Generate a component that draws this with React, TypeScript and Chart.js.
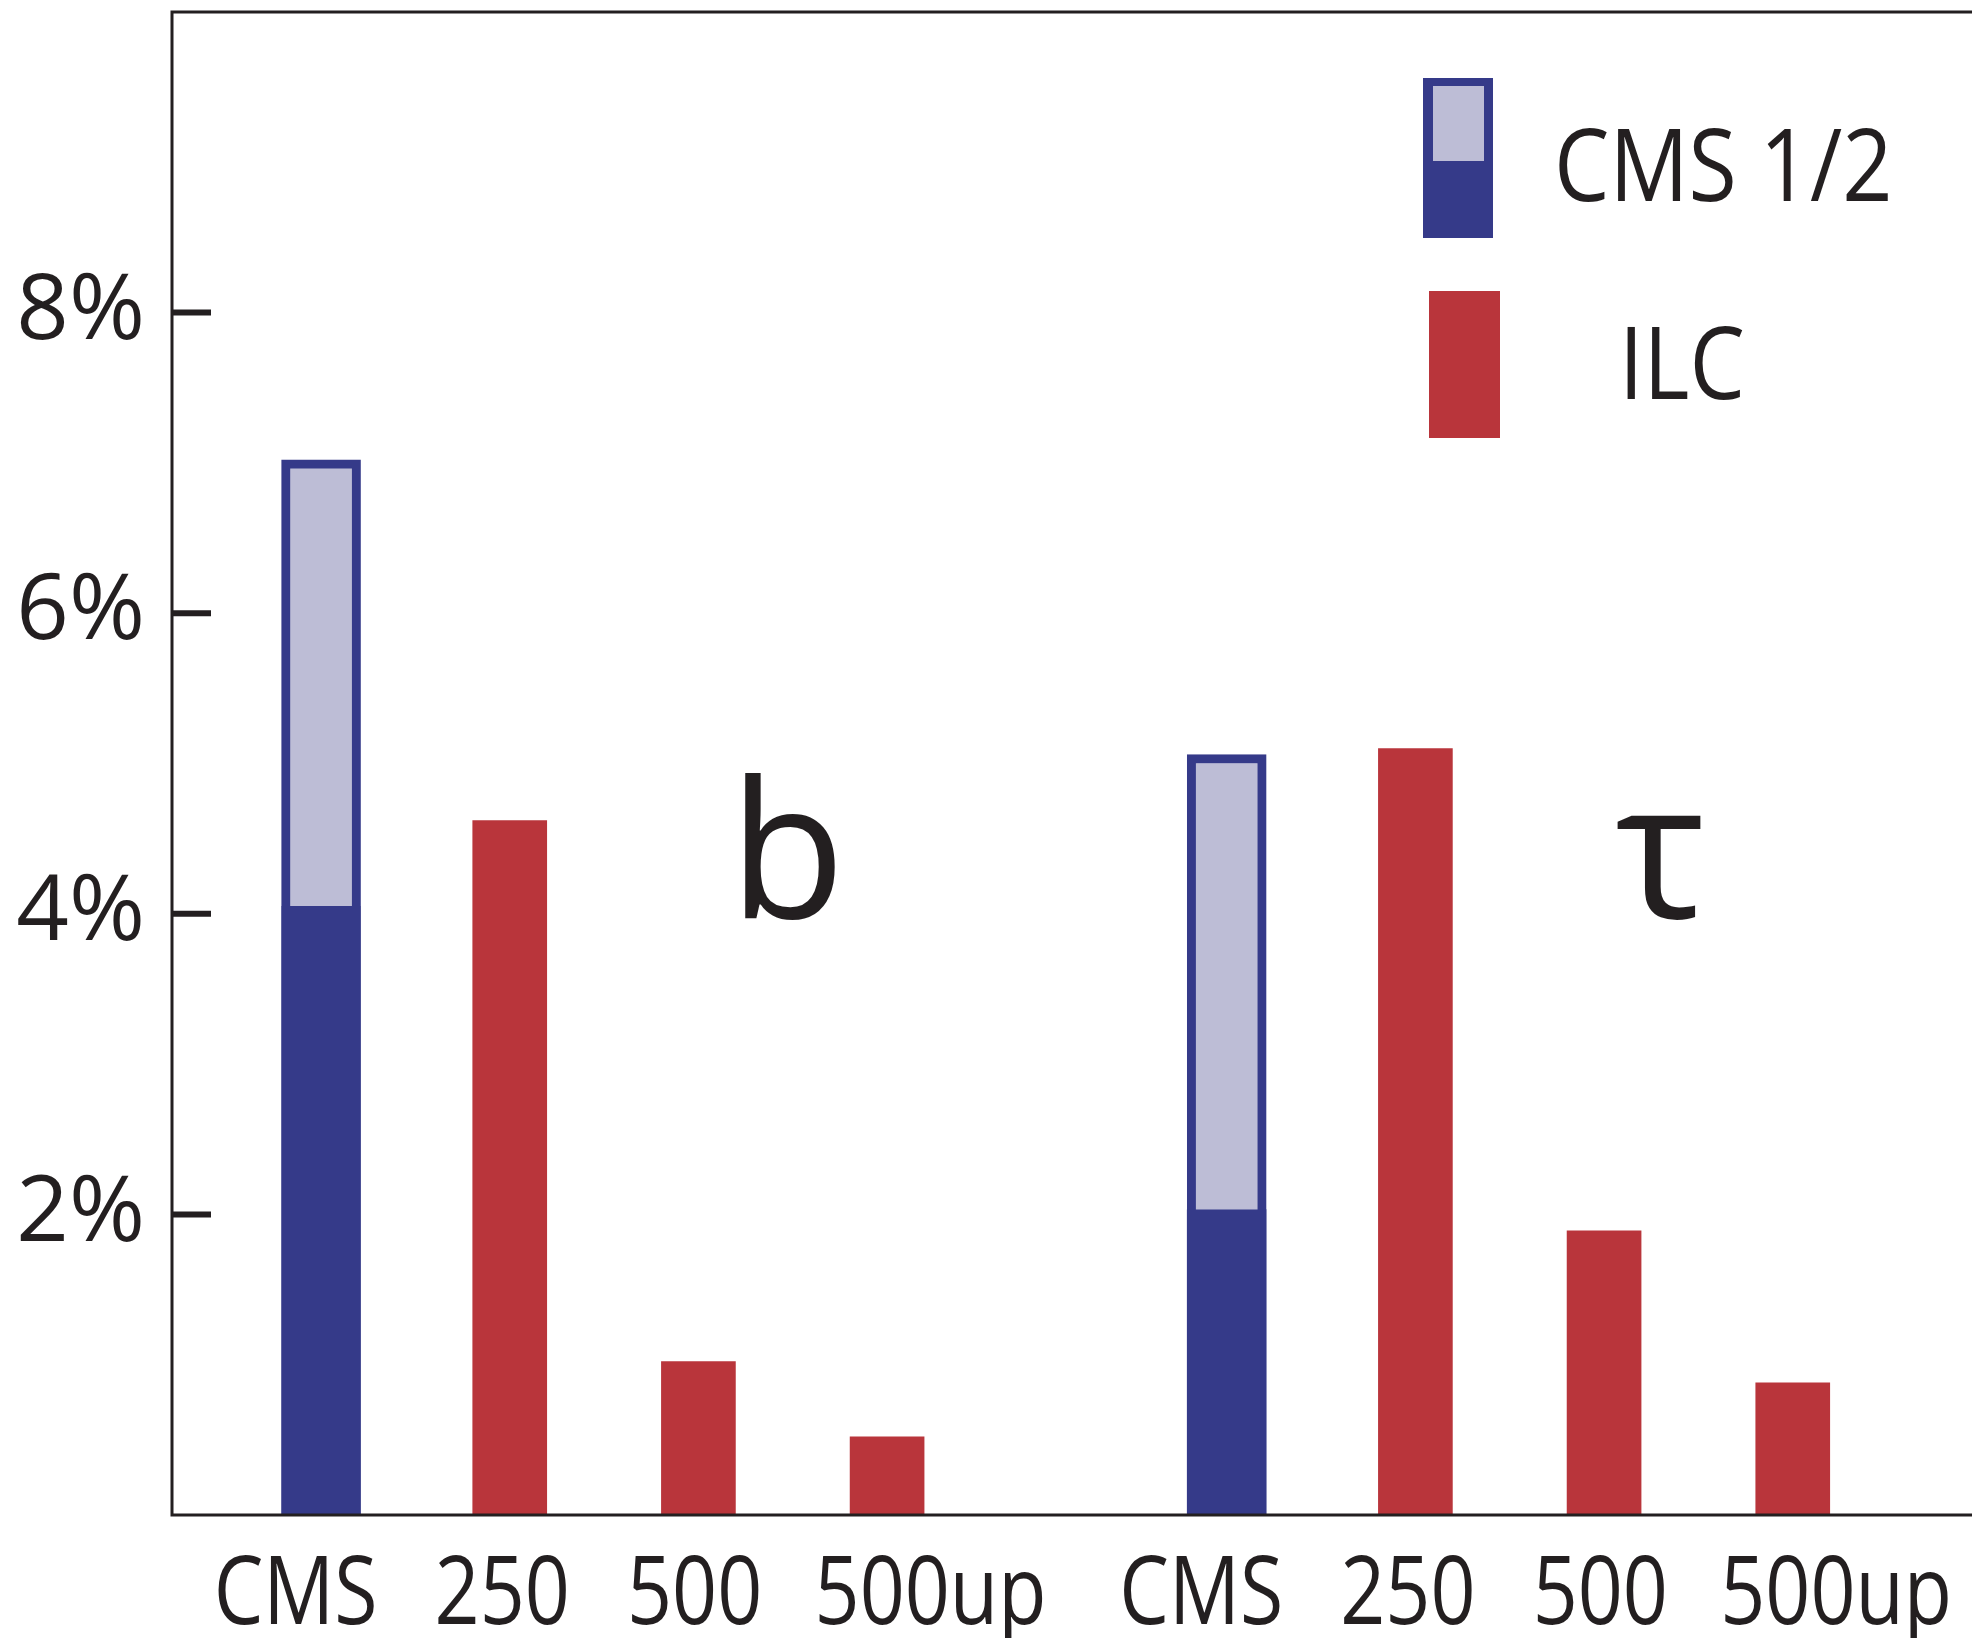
import React, { useEffect, useRef } from 'react';
import { Chart, registerables } from 'chart.js';

Chart.register(...registerables);

// ---- data ----
const groups = ['b', 'τ'];
const columns = ['CMS', '250', '500', '500up'];
const cmsLow = [4.05, 2.03];
const cmsHigh = [7.02, 5.06];
const ilc250 = [4.62, 5.1];
const ilc500 = [1.02, 1.89];
const ilc500up = [0.52, 0.88];
const yTicks = [2, 4, 6, 8];
const legendLabels = ['CMS 1/2', 'ILC'];

// ---- layout / style ----
const W = 1972;
const H = 1638;
const GROUP_OFFSET = 4.8;
const LABEL_SHIFT = [-0.135, -0.04, -0.02, 0.23];
const LETTER_OFFSET = [2.47, 2.3];
const LETTER_BASE = 3.97;
const DARK = '#353a89';
const LIGHT = '#bdbdd6';
const RED = '#b9353b';
const INK = '#231f20';
const FONT = '"Open Sans", "Noto Sans", sans-serif';

const pos = (g: number, c: number) => g * GROUP_OFFSET + c;
const tickPositions = groups.flatMap((_, g) => columns.map((_, c) => pos(g, c) + LABEL_SHIFT[c]));
const tickLabels = groups.flatMap(() => columns);

function condensedText(ctx: any, text: string, x: number, y: number, sx: number, align: string) {
  ctx.save();
  ctx.translate(x, y);
  ctx.scale(sx, 1);
  ctx.textAlign = align;
  ctx.textBaseline = 'alphabetic';
  ctx.fillText(text, 0, 0);
  ctx.restore();
}

const overlay = {
  id: 'overlay',
  afterDatasetsDraw(chart: any) {
    const { ctx, chartArea: a, scales } = chart;
    const x = scales.x;
    const y = scales.y;
    ctx.save();
    // frame
    ctx.strokeStyle = INK;
    ctx.lineWidth = 3;
    ctx.beginPath();
    ctx.moveTo(a.right + 4, a.top);
    ctx.lineTo(a.left, a.top);
    ctx.lineTo(a.left, a.bottom);
    ctx.lineTo(a.right + 4, a.bottom);
    ctx.stroke();
    // inward ticks
    ctx.lineWidth = 6;
    yTicks.forEach((v) => {
      const py = y.getPixelForValue(v);
      ctx.beginPath();
      ctx.moveTo(a.left, py);
      ctx.lineTo(a.left + 39, py);
      ctx.stroke();
    });
    ctx.fillStyle = INK;
    // x tick labels (condensed, like the original typeface)
    ctx.font = `95px ${FONT}`;
    x.ticks.forEach((t: any, i: number) => {
      condensedText(ctx, tickLabels[i], x.getPixelForValue(t.value), a.bottom + 109, 0.83, 'center');
    });
    // group letters
    ctx.font = `190px ${FONT}`;
    ctx.textAlign = 'center';
    ctx.textBaseline = 'alphabetic';
    groups.forEach((g, i) => {
      ctx.fillText(g, x.getPixelForValue(pos(i, LETTER_OFFSET[i])), y.getPixelForValue(LETTER_BASE));
    });
    // legend
    ctx.fillStyle = DARK;
    ctx.fillRect(1423, 78, 70, 160);
    ctx.fillStyle = LIGHT;
    ctx.fillRect(1433, 86, 51, 75);
    ctx.fillStyle = RED;
    ctx.fillRect(1429, 291, 71, 147);
    ctx.fillStyle = INK;
    ctx.font = `100px ${FONT}`;
    condensedText(ctx, legendLabels[0], 1554, 201, 0.88, 'left');
    condensedText(ctx, legendLabels[1], 1619, 399, 0.88, 'left');
    ctx.restore();
  },
};

export default function App() {
  const ref = useRef<HTMLCanvasElement | null>(null);

  useEffect(() => {
    if (!ref.current) return;
    const cmsDarkData = groups.map((_, g) => ({ x: pos(g, 0), y: cmsLow[g] }));
    const cmsLightData = groups.map((_, g) => ({ x: pos(g, 0), y: [cmsLow[g], cmsHigh[g]] }));
    const ilcData = groups.flatMap((_, g) =>
      [ilc250[g], ilc500[g], ilc500up[g]].map((v, i) => ({ x: pos(g, i + 1), y: v }))
    );

    const chart = new Chart(ref.current, {
      type: 'bar',
      data: {
        datasets: [
          {
            label: 'CMS 1',
            data: cmsDarkData as any,
            backgroundColor: DARK,
            borderWidth: 0,
            barThickness: 79,
            grouped: false,
          },
          {
            label: 'CMS 2',
            data: cmsLightData as any,
            backgroundColor: LIGHT,
            borderColor: DARK,
            borderWidth: 9,
            borderSkipped: 'start',
            barThickness: 79,
            grouped: false,
          },
          {
            label: 'ILC',
            data: ilcData as any,
            backgroundColor: RED,
            borderWidth: 0,
            barThickness: 74,
            grouped: false,
          },
        ],
      },
      options: {
        animation: false,
        responsive: false,
        maintainAspectRatio: false,
        devicePixelRatio: 1,
        layout: { padding: { top: 12, left: 0, right: 0, bottom: 0 } },
        plugins: { legend: { display: false }, tooltip: { enabled: false } },
        scales: {
          x: {
            type: 'linear',
            min: -0.79,
            max: 8.75,
            offset: false,
            grid: { display: false, drawTicks: false },
            border: { display: false },
            afterBuildTicks: (s: any) => {
              s.ticks = tickPositions.map((v) => ({ value: v }));
            },
            afterFit: (s: any) => {
              s.height = 123;
              s.paddingLeft = 0;
              s.paddingRight = 0;
            },
            ticks: {
              display: false,
              autoSkip: false,
              callback: (_v: any, i: number) => tickLabels[i],
            },
          },
          y: {
            type: 'linear',
            min: 0,
            max: 10,
            grid: { display: false, drawTicks: false },
            border: { display: false },
            afterBuildTicks: (s: any) => {
              s.ticks = yTicks.map((v) => ({ value: v }));
            },
            afterFit: (s: any) => {
              s.width = 172;
              s.paddingTop = 0;
              s.paddingBottom = 0;
            },
            ticks: {
              padding: 27,
              color: INK,
              font: { family: FONT, size: 92 },
              callback: (v: any) => `${v}%`,
            },
          },
        },
      },
      plugins: [overlay],
    });
    return () => chart.destroy();
  }, []);

  return (
    <div style={{ position: 'fixed', left: 0, top: 0, width: W, height: H, background: '#fff' }}>
      <canvas ref={ref} width={W} height={H} style={{ width: W, height: H, display: 'block' }} />
    </div>
  );
}
